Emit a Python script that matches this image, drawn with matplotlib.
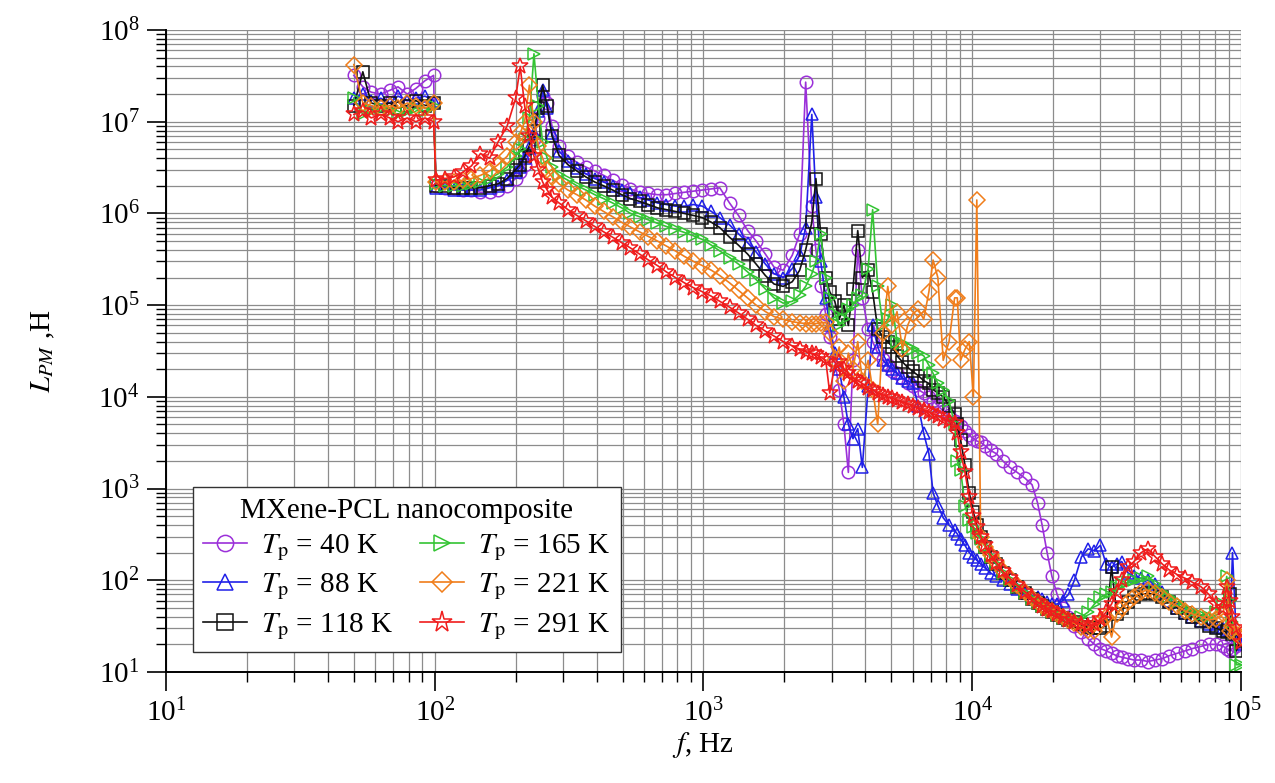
import matplotlib
matplotlib.use("Agg")
import matplotlib.pyplot as plt
from matplotlib.ticker import LogLocator, NullFormatter

plt.rcParams['font.family'] = ['Liberation Serif', 'DejaVu Serif']
plt.rcParams['mathtext.fontset'] = 'stix'

# frequency grid, Hz
freq = [50, 54, 58, 63, 68, 73, 79, 85, 92, 99,
        101, 109, 118, 127, 137, 148, 160, 172, 186, 200,
        208, 216, 225, 234, 243, 252, 262, 273, 290, 313,
        338, 365, 394, 425, 459, 496, 535, 578, 624, 674,
        728, 786, 849, 917, 990, 1070, 1150, 1250, 1350, 1460,
        1570, 1700, 1830, 1980, 2140, 2280, 2400, 2530, 2620, 2730,
        2850, 2950, 3080, 3200, 3330, 3460, 3600, 3750, 3900, 4100,
        4260, 4450, 4650, 4850, 5050, 5250, 5500, 5750, 6000, 6300,
        6600, 6900, 7150, 7450, 7800, 8200, 8600, 8800, 9050, 9400,
        9750, 10100, 10400, 10750, 11200, 11700, 12300, 13000, 13800, 14700,
        15700, 16700, 17500, 18200, 19000, 19800, 20700, 21700, 22800, 24000,
        25500, 27000, 28500, 30000, 31500, 33000, 34500, 36000, 38000, 40000,
        42500, 45000, 48000, 51000, 54000, 58000, 62000, 66000, 71000, 76000,
        81000, 86000, 88500, 91000, 93000, 96000, 100000]

L_40 = [3.2e7, 2.4e7, 2.1e7, 2.0e7, 2.2e7, 2.4e7, 2.0e7, 2.3e7, 2.8e7, 3.2e7,
        2.0e6, 1.9e6, 1.9e6, 1.8e6, 1.8e6, 1.7e6, 1.7e6, 1.8e6, 2.0e6, 2.4e6,
        2.8e6, 3.4e6, 4.5e6, 6.5e6, 1.1e7, 1.9e7, 1.6e7, 9.0e6, 5.5e6, 4.2e6,
        3.6e6, 3.2e6, 2.9e6, 2.6e6, 2.3e6, 2.05e6, 1.85e6, 1.7e6, 1.65e6, 1.6e6,
        1.6e6, 1.65e6, 1.7e6, 1.75e6, 1.8e6, 1.85e6, 1.9e6, 1.3e6, 9.5e5, 6.5e5,
        5.0e5, 3.6e5, 2.6e5, 2.4e5, 3.5e5, 6.0e5, 2.7e7, 1.2e6, 4.0e5, 1.6e5,
        8.0e4, 4.5e4, 2.5e4, 1.2e4, 5.0e3, 1.5e3, 2.5e4, 4.0e5, 1.2e5, 5.5e4,
        4.0e4, 3.0e4, 2.6e4, 2.2e4, 1.9e4, 1.8e4, 1.6e4, 1.4e4, 1.3e4, 1.2e4,
        1.1e4, 1.0e4, 9.0e3, 8.0e3, 7.0e3, 6.3e3, 5.5e3, 5.2e3, 4.8e3, 4.2e3,
        3.8e3, 3.5e3, 3.3e3, 3.2e3, 2.9e3, 2.6e3, 2.4e3, 2.0e3, 1.7e3, 1.5e3,
        1.3e3, 1.1e3, 7.0e2, 4.0e2, 2.0e2, 1.1e2, 7.0e1, 5.0e1, 4.0e1, 3.2e1,
        2.7e1, 2.3e1, 2.0e1, 1.8e1, 1.7e1, 1.6e1, 1.5e1, 1.45e1, 1.4e1, 1.35e1,
        1.35e1, 1.3e1, 1.35e1, 1.4e1, 1.5e1, 1.6e1, 1.7e1, 1.8e1, 1.9e1, 2.0e1,
        2.0e1, 1.9e1, 1.8e1, 1.7e1, 1.8e1, 1.9e1, 2.1e1]

L_88 = [1.8e7, 2.0e7, 1.7e7, 1.8e7, 1.6e7, 1.9e7, 1.7e7, 1.8e7, 1.9e7, 1.7e7,
        1.9e6, 1.9e6, 1.8e6, 1.8e6, 1.8e6, 1.8e6, 1.9e6, 2.0e6, 2.3e6, 2.8e6,
        3.2e6, 4.0e6, 5.2e6, 7.5e6, 1.3e7, 2.2e7, 1.4e7, 7.5e6, 4.8e6, 3.7e6,
        3.1e6, 2.7e6, 2.4e6, 2.2e6, 2.0e6, 1.8e6, 1.65e6, 1.5e6, 1.4e6, 1.3e6,
        1.25e6, 1.2e6, 1.2e6, 1.25e6, 1.2e6, 1.05e6, 9.0e5, 7.5e5, 6.0e5, 4.8e5,
        3.8e5, 2.8e5, 2.2e5, 2.0e5, 2.5e5, 3.5e5, 7.0e5, 1.2e7, 1.5e6, 3.0e5,
        1.2e5, 6.0e4, 3.0e4, 2.0e4, 1.0e4, 5.0e3, 3.5e3, 4.5e3, 1.7e3, 1.3e4,
        6.0e4, 3.5e4, 2.5e4, 2.2e4, 2.0e4, 1.8e4, 1.6e4, 1.5e4, 1.4e4, 8.0e3,
        4.0e3, 2.4e3, 9.0e2, 6.5e2, 4.8e2, 4.0e2, 3.5e2, 3.2e2, 2.8e2, 2.4e2,
        2.0e2, 1.8e2, 1.65e2, 1.5e2, 1.35e2, 1.2e2, 1.1e2, 1.0e2, 9.0e1, 8.0e1,
        7.3e1, 6.8e1, 6.5e1, 6.2e1, 5.8e1, 5.5e1, 5.5e1, 6.0e1, 7.0e1, 1.0e2,
        1.8e2, 2.2e2, 2.1e2, 2.4e2, 1.5e2, 1.4e2, 1.5e2, 1.6e2, 1.2e2, 1.1e2,
        1.05e2, 1.0e2, 9.0e1, 7.5e1, 6.0e1, 5.0e1, 4.4e1, 4.0e1, 3.6e1, 3.3e1,
        3.1e1, 3.0e1, 2.9e1, 2.8e1, 2.0e2, 2.5e1, 2.0e1]

L_118 = [1.5e7, 3.5e7, 1.6e7, 1.5e7, 1.6e7, 1.4e7, 1.5e7, 1.7e7, 1.5e7, 1.6e7,
         2.0e6, 2.0e6, 1.9e6, 1.9e6, 1.9e6, 1.9e6, 2.0e6, 2.1e6, 2.4e6, 3.0e6,
         3.4e6, 4.2e6, 5.5e6, 8.0e6, 1.4e7, 2.5e7, 1.5e7, 7.0e6, 4.3e6, 3.4e6,
         2.9e6, 2.5e6, 2.2e6, 2.0e6, 1.8e6, 1.6e6, 1.45e6, 1.35e6, 1.25e6, 1.15e6,
         1.1e6, 1.05e6, 1.0e6, 9.5e5, 9.0e5, 8.0e5, 7.0e5, 5.5e5, 4.5e5, 3.6e5,
         2.8e5, 2.1e5, 1.7e5, 1.6e5, 1.8e5, 2.4e5, 4.0e5, 8.0e5, 2.4e6, 6.0e5,
         2.0e5, 1.4e5, 1.1e5, 7.0e4, 1.0e5, 6.0e4, 1.5e5, 6.5e5, 2.0e5, 2.4e5,
         1.4e5, 5.5e4, 4.5e4, 4.0e4, 3.5e4, 2.8e4, 2.4e4, 2.1e4, 1.9e4, 1.7e4,
         1.5e4, 1.4e4, 1.2e4, 1.1e4, 1.0e4, 8.0e3, 6.5e3, 5.0e3, 3.4e3, 1.8e3,
         9.0e2, 5.5e2, 4.0e2, 3.0e2, 2.3e2, 1.8e2, 1.5e2, 1.2e2, 1.0e2, 8.5e1,
         7.2e1, 6.2e1, 5.6e1, 5.2e1, 4.8e1, 4.5e1, 4.2e1, 3.9e1, 3.7e1, 3.5e1,
         3.3e1, 3.1e1, 3.0e1, 3.0e1, 3.2e1, 1.4e2, 4.3e1, 5.0e1, 5.8e1, 6.5e1,
         7.0e1, 7.2e1, 7.0e1, 6.5e1, 5.8e1, 5.0e1, 4.4e1, 4.0e1, 3.6e1, 3.2e1,
         3.0e1, 2.8e1, 2.7e1, 7.0e1, 2.6e1, 1.7e1, 2.2e1]

L_165 = [1.8e7, 1.2e7, 1.3e7, 1.4e7, 1.3e7, 1.2e7, 1.3e7, 1.4e7, 1.3e7, 1.5e7,
         2.1e6, 2.0e6, 2.0e6, 2.0e6, 2.1e6, 2.2e6, 2.4e6, 2.7e6, 3.2e6, 4.2e6,
         5.0e6, 6.5e6, 1.1e7, 5.5e7, 1.5e7, 6.0e6, 4.0e6, 3.2e6, 2.6e6, 2.3e6,
         2.0e6, 1.8e6, 1.6e6, 1.45e6, 1.3e6, 1.15e6, 1.0e6, 9.2e5, 8.5e5, 7.8e5,
         7.2e5, 6.7e5, 6.2e5, 5.7e5, 5.2e5, 4.5e5, 3.9e5, 3.3e5, 2.8e5, 2.3e5,
         1.9e5, 1.5e5, 1.2e5, 1.05e5, 1.1e5, 1.3e5, 1.6e5, 2.2e5, 3.0e5, 6.0e5,
         2.0e5, 1.2e5, 8.0e4, 6.0e4, 7.0e4, 9.0e4, 1.0e5, 1.2e5, 1.3e5, 2.5e5,
         1.1e6, 1.6e5, 6.0e4, 7.0e4, 1.0e5, 4.0e4, 3.9e4, 3.5e4, 3.3e4, 3.0e4,
         2.8e4, 2.2e4, 1.8e4, 1.4e4, 1.2e4, 9.0e3, 5.0e3, 2.0e3, 1.6e3, 6.5e2,
         4.5e2, 3.8e2, 3.3e2, 2.8e2, 2.3e2, 1.8e2, 1.5e2, 1.2e2, 1.0e2, 8.5e1,
         7.2e1, 6.2e1, 5.6e1, 5.2e1, 4.8e1, 4.5e1, 4.2e1, 3.9e1, 3.8e1, 3.8e1,
         4.0e1, 4.5e1, 5.5e1, 6.5e1, 7.0e1, 7.5e1, 8.5e1, 9.0e1, 9.5e1, 1.0e2,
         1.05e2, 1.1e2, 9.0e1, 7.5e1, 6.5e1, 5.8e1, 5.0e1, 4.5e1, 4.2e1, 4.0e1,
         4.5e1, 5.5e1, 1.1e2, 6.0e1, 3.5e1, 1.2e1, 1.2e1]

L_221 = [4.2e7, 1.6e7, 1.5e7, 1.4e7, 1.5e7, 1.4e7, 1.6e7, 1.5e7, 1.4e7, 1.6e7,
         2.2e6, 2.2e6, 2.2e6, 2.3e6, 2.4e6, 2.6e6, 2.9e6, 3.4e6, 4.2e6, 6.0e6,
         7.5e6, 1.0e7, 2.5e7, 1.0e7, 5.5e6, 4.0e6, 3.0e6, 2.5e6, 2.1e6, 1.8e6,
         1.6e6, 1.4e6, 1.2e6, 1.05e6, 9.2e5, 8.0e5, 7.1e5, 6.3e5, 5.6e5, 5.0e5,
         4.4e5, 3.9e5, 3.4e5, 3.0e5, 2.7e5, 2.4e5, 2.1e5, 1.75e5, 1.45e5, 1.2e5,
         1.0e5, 8.5e4, 7.5e4, 7.0e4, 6.6e4, 6.4e4, 6.3e4, 6.3e4, 6.3e4, 6.4e4,
         6.5e4, 5.0e4, 2.5e4, 3.5e4, 1.5e4, 3.0e4, 2.0e4, 4.0e4, 1.5e4, 2.5e4,
         1.2e4, 5.0e3, 5.0e4, 1.6e5, 6.0e4, 8.5e4, 3.3e4, 6.0e4, 8.0e4, 9.0e4,
         7.0e4, 1.4e5, 3.1e5, 2.0e5, 2.5e4, 4.0e4, 1.2e5, 1.2e5, 2.5e4, 3.3e4,
         4.0e4, 1.0e4, 1.4e6, 3.0e2, 2.3e2, 1.9e2, 1.6e2, 1.25e2, 1.05e2, 8.8e1,
         7.5e1, 6.4e1, 5.8e1, 5.3e1, 4.9e1, 4.6e1, 4.3e1, 4.0e1, 3.7e1, 3.4e1,
         3.1e1, 2.9e1, 2.8e1, 3.5e1, 4.0e1, 2.4e1, 4.3e1, 5.0e1, 5.8e1, 6.5e1,
         7.5e1, 7.8e1, 7.2e1, 6.5e1, 5.8e1, 5.2e1, 4.6e1, 4.3e1, 4.0e1, 3.7e1,
         3.8e1, 4.3e1, 1.0e2, 2.8e1, 3.2e1, 2.6e1, 2.4e1]

L_291 = [1.2e7, 1.3e7, 1.1e7, 1.2e7, 1.1e7, 1.0e7, 1.1e7, 1.0e7, 1.1e7, 1.0e7,
         2.3e6, 2.4e6, 2.5e6, 2.8e6, 3.3e6, 4.5e6, 4.0e6, 6.0e6, 9.0e6, 1.8e7,
         4.0e7, 1.5e7, 7.0e6, 4.2e6, 3.0e6, 2.2e6, 1.8e6, 1.5e6, 1.3e6, 1.1e6,
         9.5e5, 8.3e5, 7.2e5, 6.3e5, 5.5e5, 4.8e5, 4.2e5, 3.6e5, 3.1e5, 2.7e5,
         2.3e5, 2.0e5, 1.75e5, 1.55e5, 1.4e5, 1.25e5, 1.1e5, 9.5e4, 8.2e4, 7.0e4,
         6.0e4, 5.2e4, 4.6e4, 4.0e4, 3.6e4, 3.3e4, 3.1e4, 3.0e4, 2.9e4, 2.7e4,
         2.5e4, 1.1e4, 2.2e4, 2.4e4, 2.0e4, 1.8e4, 1.6e4, 1.5e4, 1.4e4, 1.25e4,
         1.2e4, 1.1e4, 1.05e4, 1.0e4, 9.6e3, 9.2e3, 8.8e3, 8.4e3, 8.0e3, 7.6e3,
         7.2e3, 6.8e3, 6.5e3, 6.2e3, 5.8e3, 5.5e3, 5.2e3, 4.0e3, 2.5e3, 1.5e3,
         8.0e2, 5.0e2, 3.8e2, 3.0e2, 2.4e2, 1.9e2, 1.55e2, 1.25e2, 1.05e2, 8.8e1,
         7.5e1, 6.4e1, 5.8e1, 5.3e1, 4.9e1, 4.6e1, 4.3e1, 4.0e1, 3.7e1, 3.5e1,
         3.3e1, 3.2e1, 3.3e1, 3.8e1, 4.5e1, 5.5e1, 7.5e1, 1.0e2, 1.4e2, 1.6e2,
         2.0e2, 2.2e2, 1.8e2, 1.5e2, 1.3e2, 1.15e2, 1.05e2, 9.5e1, 8.5e1, 7.0e1,
         5.5e1, 5.0e1, 8.5e1, 6.0e1, 4.0e1, 3.0e1, 2.1e1]

temps = ['40', '88', '118', '165', '221', '291']
markers = ['o', '^', 's', '>', 'D', '*']
colors = ['#9b30d9', '#2020e8', '#111111', '#33c433', '#f07d1a', '#f01c1c']
values = [L_40, L_88, L_118, L_165, L_221, L_291]

fig = plt.figure(figsize=(12.75, 7.83), dpi=100)
ax = fig.add_axes([0.1302, 0.1418, 0.8431, 0.8199])

for L, t, m, c in zip(values, temps, markers, colors):
    ms = 12 if m == '*' else (8 if m == 'D' else 9)
    ax.plot(freq, L, color=c, marker=m, markersize=ms, markerfacecolor='none',
            markeredgewidth=1.1, linewidth=1.2,
            label=r'$T_\mathrm{p}$ = ' + t + ' K')

ax.set_xscale('log')
ax.set_yscale('log')
ax.set_xlim(10, 1e5)
ax.set_ylim(10, 1e8)

ax.xaxis.set_major_locator(LogLocator(base=10, numticks=10))
ax.yaxis.set_major_locator(LogLocator(base=10, numticks=10))
ax.xaxis.set_minor_locator(LogLocator(base=10, subs=range(2, 10), numticks=100))
ax.yaxis.set_minor_locator(LogLocator(base=10, subs=range(2, 10), numticks=100))
ax.xaxis.set_minor_formatter(NullFormatter())
ax.yaxis.set_minor_formatter(NullFormatter())

ax.grid(True, which='both', color='#8c8c8c', linewidth=0.9)
ax.set_axisbelow(True)

for side in ['top', 'right']:
    ax.spines[side].set_visible(False)
for side in ['left', 'bottom']:
    ax.spines[side].set_linewidth(1.4)

ax.tick_params(which='major', direction='out', length=14, width=1.2, labelsize=21, pad=5)
ax.tick_params(which='minor', direction='out', length=7, width=1.0)

ax.set_xlabel(r'$f$, Hz', fontsize=21, labelpad=2)
ax.set_ylabel(r'$L_{PM}$ ,H', fontsize=21, labelpad=30)

leg = ax.legend(loc='lower left', bbox_to_anchor=(0.025, 0.031), borderaxespad=0,
                ncol=2, title='MXene-PCL nanocomposite', fontsize=21,
                title_fontsize=21, frameon=True, fancybox=False, framealpha=1,
                edgecolor='#333333', handlelength=1.5, handletextpad=0.5,
                columnspacing=0.9, labelspacing=0.3, borderpad=0.35,
                markerscale=1.3)
leg.get_frame().set_linewidth(1.0)

fig.savefig('out.png', dpi=100)
